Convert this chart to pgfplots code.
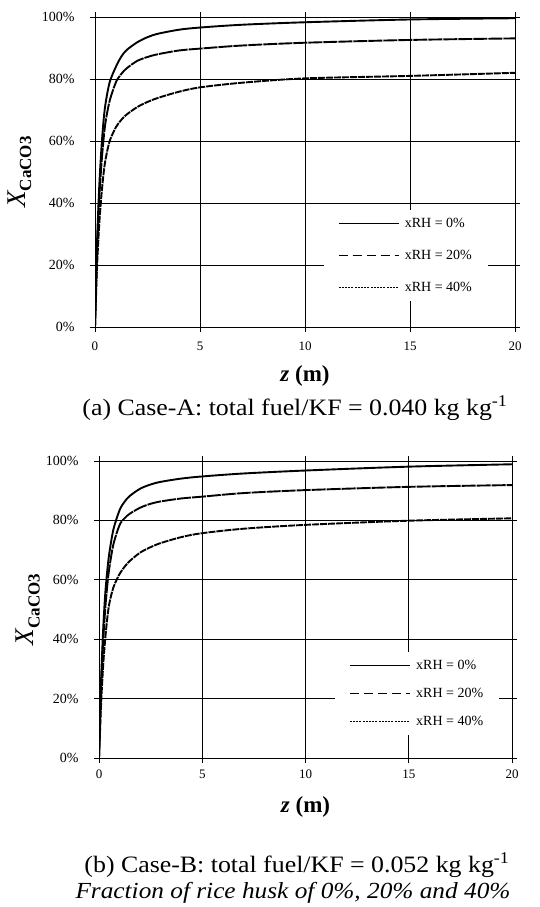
\documentclass[border=0pt]{standalone}
\usepackage{pgfplots}
\pgfplotsset{compat=1.18}
\usepackage{fontspec}
\setmainfont{Liberation Serif}
\newfontfamily\capfont{Liberation Serif}[FakeStretch=1.1]

\pgfplotsset{
  panel/.style={
    scale only axis,
    xmin=0, xmax=20, ymin=0, ymax=100,
    xtick={0,5,10,15,20}, ytick={0,20,40,60,80,100},
    /pgf/number format/assume math mode=true,
    yticklabel={\pgfmathprintnumber{\tick}\%},
    grid=major,
    major grid style={black, line width=0.9pt},
    axis line style={black, line width=0.9pt},
    tick style={black, line width=0.9pt},
    tick align=outside, major tick length=5pt,
    y tick label style={font=\fontsize{14}{14}\selectfont, xshift=-12pt},
    x tick label style={font=\fontsize{13}{13}\selectfont},
    xlabel={\fontsize{23}{23}\selectfont\bfseries\itshape z\/ \upshape(m)},
    ylabel={\fontsize{27}{27}\selectfont\itshape X\upshape\raisebox{-6pt}{\fontsize{17}{17}\selectfont\bfseries CaCO3}},
    legend cell align=left,
    legend image code/.code={\draw[#1] (0pt,0pt) -- (60pt,0pt);},
    legend style={draw=none, fill=white, font=\fontsize{14}{14}\selectfont,
      inner xsep=14pt, inner ysep=6pt,
      /tikz/every odd column/.append style={column sep=4pt}},
    curve/.style={black, line width=1.9pt, smooth, tension=0.5},
  }
}

\begin{document}
\begin{tikzpicture}[x=1pt,y=1pt]
\path[use as bounding box] (0,0) rectangle (539,-907);

% panel (a)
\begin{axis}[panel,
  at={(95pt,-17pt)}, anchor=north west,
  width=420pt, height=310pt,
  x tick label style={yshift=-6pt},
  xlabel style={at={(axis description cs:0.5,-0.158)}, anchor=center},
  ylabel style={at={(axis description cs:-0.18,0.5)}, anchor=center},
  legend style={at={(0.545,0.377)}, anchor=north west, row sep=17pt},
]
\addplot[curve, forget plot] coordinates {
  (0,0) (0.05,15) (0.1,28) (0.2,45) (0.3,57) (0.4,66) (0.5,72) (0.7,79)
  (1,84) (1.25,87.2) (1.5,89.3) (2,91.8) (2.5,93.5) (3,94.6) (4,95.9)
  (5,96.6) (7,97.5) (10,98.3) (15,99.2) (20,99.6)};
\addplot[curve, dash pattern=on 14pt off 1pt, forget plot] coordinates {
  (0,0) (0.05,13) (0.1,25) (0.2,41) (0.3,52) (0.4,60) (0.5,66) (0.7,73)
  (1,79) (1.25,81.6) (1.5,83.4) (2,85.8) (2.5,87.1) (3,88) (4,89.2)
  (5,89.8) (7,90.8) (10,91.7) (15,92.6) (20,93.1)};
\addplot[curve, dash pattern=on 7pt off 1pt, forget plot] coordinates {
  (0,0) (0.05,10) (0.1,20) (0.2,33) (0.3,42) (0.4,49) (0.5,54) (0.7,60)
  (1,64.5) (1.25,66.8) (1.5,68.5) (2,70.9) (2.5,72.6) (3,73.9) (4,75.9)
  (5,77.3) (7,78.8) (10,80.2) (15,81) (20,82)};
\addlegendimage{black, line width=0.8pt}
\addlegendentry{xRH = 0\%}
\addlegendimage{black, line width=0.8pt, dash pattern=on 9pt off 5pt}
\addlegendentry{xRH = 20\%}
\addlegendimage{black, line width=0.8pt, dash pattern=on 2pt off 1.2pt}
\addlegendentry{xRH = 40\%}
\end{axis}

% panel (b)
\begin{axis}[panel,
  at={(99pt,-461pt)}, anchor=north west,
  width=413pt, height=297pt,
  x tick label style={yshift=-3pt},
  xlabel style={at={(axis description cs:0.5,-0.165)}, anchor=center},
  ylabel style={at={(axis description cs:-0.172,0.5)}, anchor=center},
  legend style={at={(0.572,0.357)}, anchor=north west, row sep=13pt},
]
\addplot[curve, forget plot] coordinates {
  (0,0) (0.05,14) (0.1,26) (0.2,43) (0.3,55) (0.4,63) (0.5,69) (0.7,77)
  (1,83.5) (1.25,86.4) (1.5,88.3) (2,90.7) (2.5,92.1) (3,93) (4,94.1)
  (5,94.8) (7,95.8) (10,96.8) (15,98.1) (20,98.9)};
\addplot[curve, dash pattern=on 14pt off 1pt, forget plot] coordinates {
  (0,0) (0.05,12) (0.1,23) (0.2,39) (0.3,50) (0.4,58) (0.5,64) (0.7,72)
  (1,78.5) (1.25,80.8) (1.5,82.3) (2,84.3) (2.5,85.6) (3,86.4) (4,87.4)
  (5,88) (7,89.2) (10,90.2) (15,91.3) (20,91.9)};
\addplot[curve, dash pattern=on 7pt off 1pt, forget plot] coordinates {
  (0,0) (0.05,9) (0.1,18) (0.2,31) (0.3,40) (0.4,47) (0.5,52) (0.7,57.5)
  (1,62) (1.25,64.5) (1.5,66.4) (2,69.2) (2.5,71) (3,72.4) (4,74.4)
  (5,75.7) (7,77.2) (10,78.5) (15,79.9) (20,80.7)};
\addlegendimage{black, line width=0.8pt}
\addlegendentry{xRH = 0\%}
\addlegendimage{black, line width=0.8pt, dash pattern=on 9pt off 5pt}
\addlegendentry{xRH = 20\%}
\addlegendimage{black, line width=0.8pt, dash pattern=on 2pt off 1.2pt}
\addlegendentry{xRH = 40\%}
\end{axis}

\node[font=\capfont\fontsize{23.5}{23.5}\selectfont] at (295,-408)
  {(a) Case-A: total fuel/KF = 0.040 kg kg\textsuperscript{-1}};
\node[font=\capfont\fontsize{23.5}{23.5}\selectfont] at (297,-865)
  {(b) Case-B: total fuel/KF = 0.052 kg kg\textsuperscript{-1}};
\node[font=\capfont\fontsize{23}{23}\selectfont\itshape] at (293,-893)
  {Fraction of rice husk of 0\%, 20\% and 40\%};
\end{tikzpicture}
\end{document}
